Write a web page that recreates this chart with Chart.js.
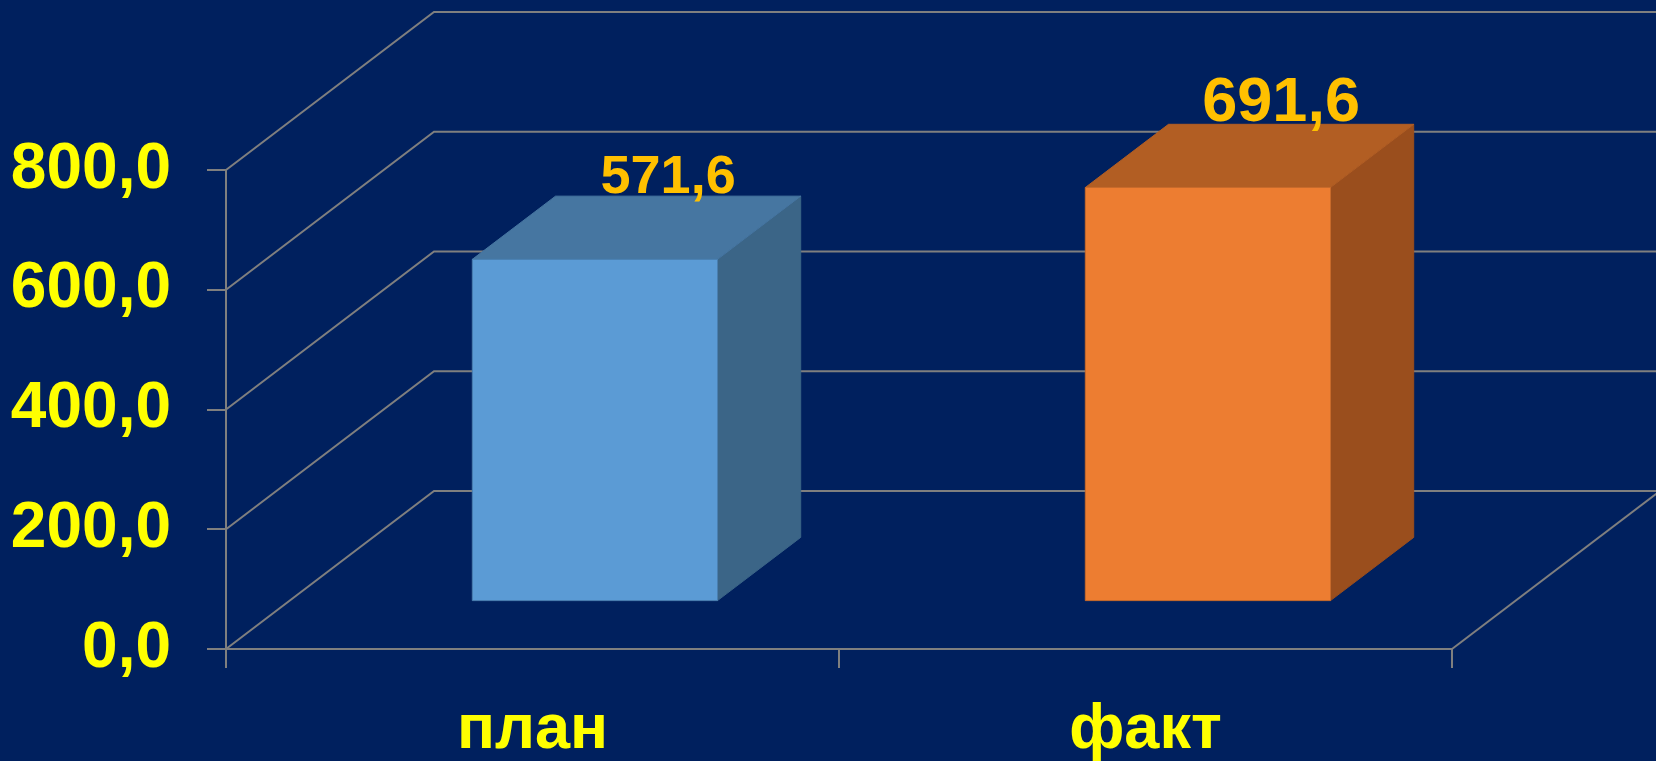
<!DOCTYPE html>
<html>
<head>
<meta charset="utf-8">
<script src="https://cdn.jsdelivr.net/npm/chart.js@4"></script>
<style>
    html, body { margin: 0; padding: 0; background: #00205e; overflow: hidden; }
    canvas { display: block; }
</style>
</head>
<body>
<canvas id="chart" width="1656" height="761"></canvas>
<script>
const categories = ["план", "факт"];
const values = [571.6, 691.6];
const valueLabels = ["571,6", "691,6"];
const yTicks = [0, 200, 400, 600, 800];
const yTickLabels = ["0,0", "200,0", "400,0", "600,0", "800,0"];

const FONT = "'Liberation Sans', Arial, sans-serif";
const GRID = "#7f7f7f";
// depth of the floor, in pixels, and where the bars sit inside it
const DEPTH_X = 208, DEPTH_Y = 158;
const BAR_FRONT = 0.3, BAR_BACK = 0.7;

const faces = [
    { front: "#5b9bd5", top: "#4676a1", side: "#3b6587", edge: "#4a7fb0" },
    { front: "#ed7d31", top: "#b25e23", side: "#9a4e1d", edge: "#c86a2a" },
];
const labelSizes = [54, 63];

function poly(ctx, pts, fill, edge) {
    ctx.beginPath();
    ctx.moveTo(pts[0][0], pts[0][1]);
    for (let i = 1; i < pts.length; i++) ctx.lineTo(pts[i][0], pts[i][1]);
    ctx.closePath();
    ctx.fillStyle = fill;
    ctx.fill();
    ctx.strokeStyle = edge;
    ctx.lineWidth = 1;
    ctx.stroke();
}

const box3d = {
    id: "box3d",
    beforeDatasetsDraw(chart) {
        const { ctx, chartArea: a, scales: { y } } = chart;
        ctx.save();
        ctx.strokeStyle = GRID;
        ctx.lineWidth = 2;
        yTicks.forEach((v) => {
            const py = y.getPixelForValue(v);
            ctx.beginPath();
            ctx.moveTo(a.left, py);
            ctx.lineTo(a.left + DEPTH_X, py - DEPTH_Y);
            ctx.lineTo(a.right + DEPTH_X, py - DEPTH_Y);
            ctx.stroke();
        });
        const py0 = y.getPixelForValue(0);
        ctx.beginPath();
        ctx.moveTo(a.right, py0);
        ctx.lineTo(a.right + DEPTH_X, py0 - DEPTH_Y);
        ctx.stroke();
        ctx.restore();
    },
    afterDatasetsDraw(chart) {
        const ctx = chart.ctx;
        const meta = chart.getDatasetMeta(0);
        const fx = BAR_FRONT * DEPTH_X, fy = BAR_FRONT * DEPTH_Y;
        const bx = (BAR_BACK - BAR_FRONT) * DEPTH_X, by = (BAR_BACK - BAR_FRONT) * DEPTH_Y;
        ctx.save();
        meta.data.forEach((bar, i) => {
            const { x, y, base, width } = bar.getProps(["x", "y", "base", "width"], true);
            const c = faces[i];
            const l = x - width / 2 + fx, r = x + width / 2 + fx;
            const t = y - fy, b = base - fy;
            poly(ctx, [[r, b], [r, t], [r + bx, t - by], [r + bx, b - by]], c.side, c.side);
            poly(ctx, [[l, t], [r, t], [r + bx, t - by], [l + bx, t - by]], c.top, c.top);
            poly(ctx, [[l, b], [l, t], [r, t], [r, b]], c.front, c.edge);

            ctx.fillStyle = "#ffc000";
            ctx.font = `bold ${labelSizes[i]}px ${FONT}`;
            ctx.textAlign = "center";
            ctx.textBaseline = "alphabetic";
            ctx.fillText(valueLabels[i], (l + r) / 2 + bx - 10, t - by - 3);
        });
        ctx.restore();
    },
};

new Chart(document.getElementById("chart"), {
    type: "bar",
    data: {
        labels: categories,
        datasets: [{
            data: values,
            backgroundColor: "rgba(0,0,0,0)",
            borderWidth: 0,
            barPercentage: 0.4,
            categoryPercentage: 1,
        }],
    },
    options: {
        responsive: false,
        animation: false,
        layout: { padding: { top: 170, right: 204, left: 0, bottom: 0 } },
        plugins: { legend: { display: false }, tooltip: { enabled: false } },
        scales: {
            x: {
                afterFit: (s) => { s.height = 112; },
                grid: { offset: true, drawOnChartArea: false, tickLength: 19, color: GRID, lineWidth: 2 },
                border: { display: true, color: GRID, width: 2 },
                ticks: {
                    color: "#ffff00",
                    font: { family: FONT, size: 63, weight: "bold" },
                    padding: 25,
                    maxRotation: 0,
                },
            },
            y: {
                min: 0,
                max: 800,
                afterFit: (s) => { s.width = 226; },
                afterBuildTicks: (s) => { s.ticks = yTicks.map((v) => ({ value: v })); },
                grid: { drawOnChartArea: false, tickLength: 19, color: GRID, lineWidth: 2 },
                border: { display: true, color: GRID, width: 2 },
                ticks: {
                    color: "#ffff00",
                    font: { family: FONT, size: 64, weight: "bold" },
                    padding: 36,
                    callback: (v) => yTickLabels[yTicks.indexOf(v)],
                },
            },
        },
    },
    plugins: [box3d],
});
</script>
</body>
</html>
